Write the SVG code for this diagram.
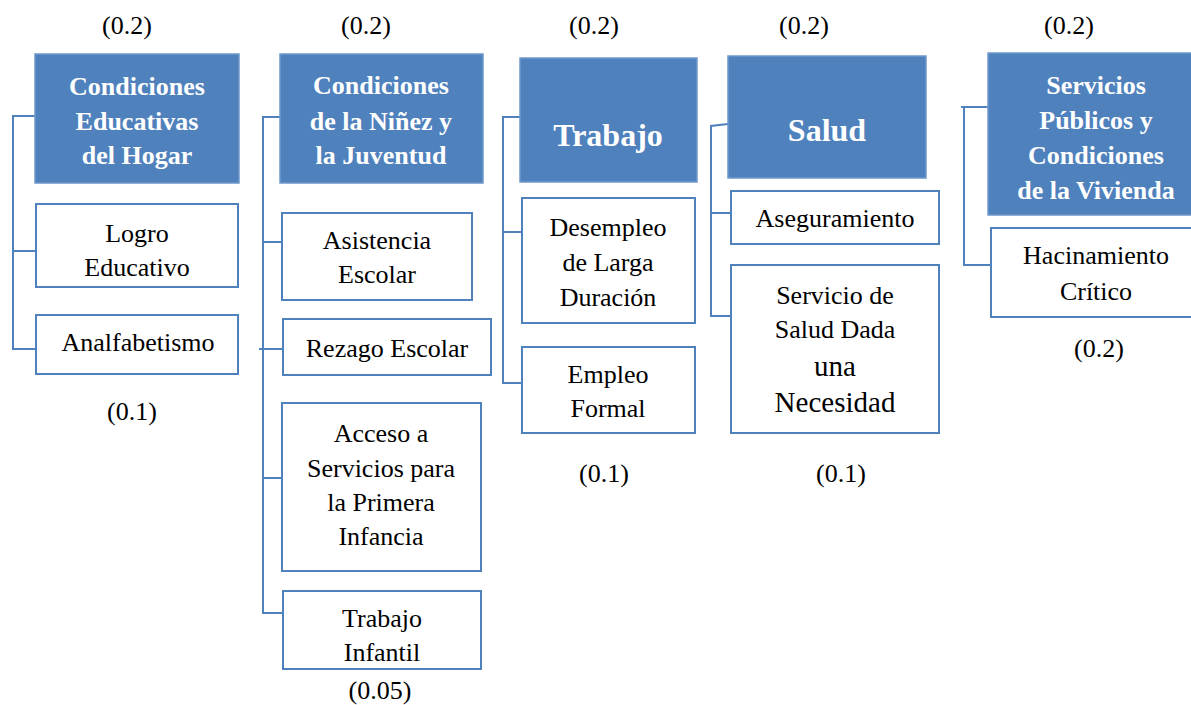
<svg xmlns="http://www.w3.org/2000/svg" width="1191" height="705" viewBox="0 0 1191 705">
<style>
.hdr{fill:#4F81BD;stroke:#6F98CC;stroke-width:1.5}
.box{fill:#FFFFFF;stroke:#4F81BD;stroke-width:2}
.con{fill:none;stroke:#4F81BD;stroke-width:2}
text{font-family:"Liberation Serif","Times New Roman",serif;text-anchor:middle}
.ht{fill:#FFFFFF;font-weight:bold;font-size:26px}
.hb{fill:#FFFFFF;font-weight:bold;font-size:32px}
.bt{fill:#000000;font-size:26px}
.bl{fill:#000000;font-size:29px}
.lb{fill:#000000;font-size:26px}
</style>
<rect x="0" y="0" width="1191" height="705" fill="#FFFFFF"/>
<g id="connectors">
<path class="con" d="M35,116 H13 V349 H36 M13,251 H36"/>
<path class="con" d="M280,117 H263 V613 H283 M263,242 H282 M259,349 H283 M263,478 H282"/>
<path class="con" d="M520,117 H503 V383 H522 M503,232 H522"/>
<path class="con" d="M728,124 L711,126 V316 H731 M711,213 H731"/>
<path class="con" d="M988,107 H961 M964,107 V265 H991"/>
</g>
<g id="labels">
<text class="lb" x="127" y="34">(0.2)</text>
<text class="lb" x="366" y="34">(0.2)</text>
<text class="lb" x="594" y="34">(0.2)</text>
<text class="lb" x="804" y="34">(0.2)</text>
<text class="lb" x="1069" y="34">(0.2)</text>
<text class="lb" x="132" y="420">(0.1)</text>
<text class="lb" x="380" y="699">(0.05)</text>
<text class="lb" x="604" y="482">(0.1)</text>
<text class="lb" x="841" y="482">(0.1)</text>
<text class="lb" x="1099" y="357">(0.2)</text>
</g>
<g id="educativas">
<rect class="hdr" x="35" y="54" width="204" height="129"/>
<text class="ht" x="137" y="95">Condiciones</text>
<text class="ht" x="137" y="130">Educativas</text>
<text class="ht" x="137" y="164">del Hogar</text>
</g>
<g id="logro">
<rect class="box" x="36" y="204" width="202" height="83"/>
<text class="bt" x="137" y="242">Logro</text>
<text class="bt" x="137" y="276">Educativo</text>
</g>
<g id="analfabetismo">
<rect class="box" x="36" y="315" width="202" height="59"/>
<text class="bt" x="138" y="351">Analfabetismo</text>
</g>
<g id="ninez">
<rect class="hdr" x="280" y="54" width="203" height="129"/>
<text class="ht" x="381" y="94">Condiciones</text>
<text class="ht" x="381" y="130">de la Niñez y</text>
<text class="ht" x="381" y="164">la Juventud</text>
</g>
<g id="asistencia">
<rect class="box" x="282" y="213" width="190" height="87"/>
<text class="bt" x="377" y="249">Asistencia</text>
<text class="bt" x="377" y="283">Escolar</text>
</g>
<g id="rezago">
<rect class="box" x="283" y="319" width="208" height="56"/>
<text class="bt" x="387" y="357">Rezago Escolar</text>
</g>
<g id="acceso">
<rect class="box" x="282" y="403" width="199" height="168"/>
<text class="bt" x="381" y="442">Acceso a</text>
<text class="bt" x="381" y="477">Servicios para</text>
<text class="bt" x="381" y="511">la Primera</text>
<text class="bt" x="381" y="545">Infancia</text>
</g>
<g id="trabajo-infantil">
<rect class="box" x="283" y="591" width="198" height="78"/>
<text class="bt" x="382" y="627">Trabajo</text>
<text class="bt" x="382" y="661">Infantil</text>
</g>
<g id="trabajo">
<rect class="hdr" x="520" y="58" width="177" height="124"/>
<text class="hb" x="608" y="146">Trabajo</text>
</g>
<g id="desempleo">
<rect class="box" x="522" y="198" width="173" height="125"/>
<text class="bt" x="608" y="236">Desempleo</text>
<text class="bt" x="608" y="271">de Larga</text>
<text class="bt" x="608" y="306">Duración</text>
</g>
<g id="empleo">
<rect class="box" x="522" y="347" width="173" height="86"/>
<text class="bt" x="608" y="383">Empleo</text>
<text class="bt" x="608" y="417">Formal</text>
</g>
<g id="salud">
<rect class="hdr" x="728" y="56" width="198" height="122"/>
<text class="hb" x="827" y="141">Salud</text>
</g>
<g id="aseguramiento">
<rect class="box" x="731" y="191" width="208" height="53"/>
<text class="bt" x="835" y="227">Aseguramiento</text>
</g>
<g id="servicio-salud">
<rect class="box" x="731" y="265" width="208" height="168"/>
<text class="bt" x="835" y="304">Servicio de</text>
<text class="bt" x="835" y="338">Salud Dada</text>
<text class="bl" x="835" y="376">una</text>
<text class="bl" x="835" y="412">Necesidad</text>
</g>
<g id="servicios-publicos">
<rect class="hdr" x="988" y="53" width="220" height="162"/>
<text class="ht" x="1096" y="94">Servicios</text>
<text class="ht" x="1096" y="129">Públicos y</text>
<text class="ht" x="1096" y="164">Condiciones</text>
<text class="ht" x="1096" y="199">de la Vivienda</text>
</g>
<g id="hacinamiento">
<rect class="box" x="991" y="228" width="220" height="89"/>
<text class="bt" x="1096" y="264">Hacinamiento</text>
<text class="bt" x="1096" y="300">Crítico</text>
</g>
</svg>
